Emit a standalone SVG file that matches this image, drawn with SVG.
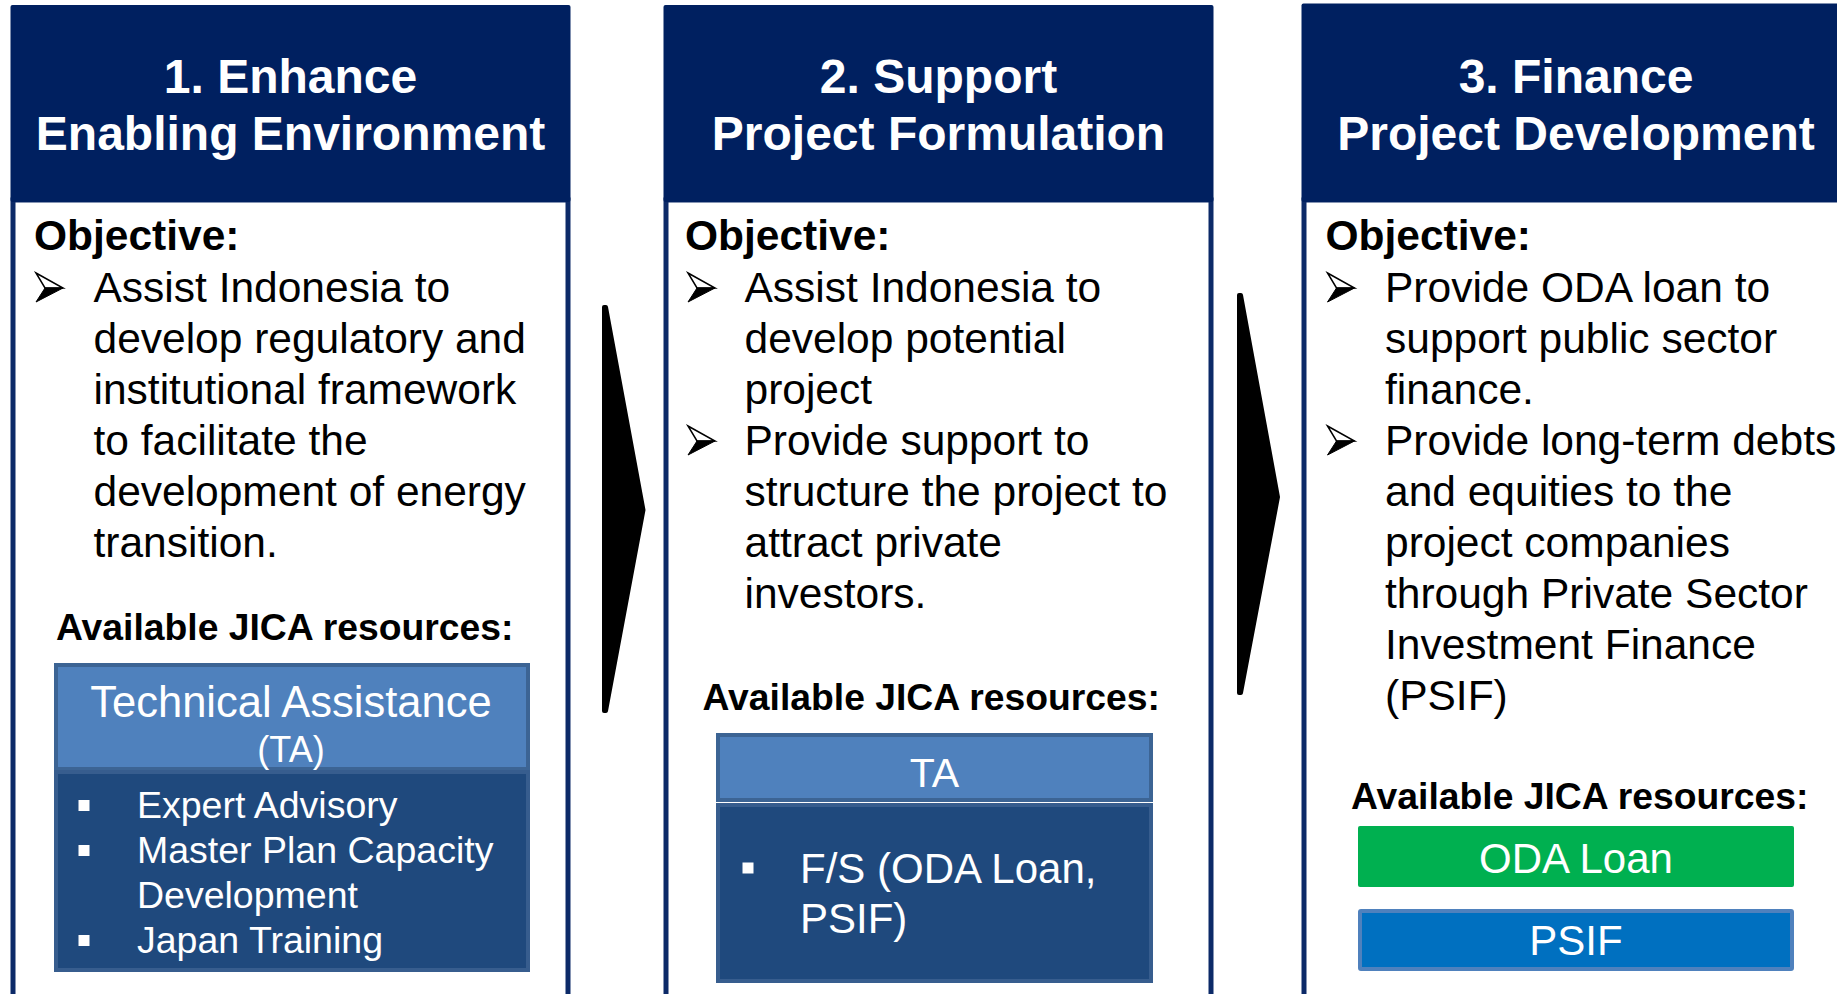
<svg xmlns="http://www.w3.org/2000/svg" xmlns:xlink="http://www.w3.org/1999/xlink" width="1837" height="994" viewBox="0 0 1837 994">
<style>
text{font-family:"Liberation Sans",Arial,sans-serif}
.hdr{fill:#002060}
.body{fill:#fff;stroke:#0C2A68;stroke-width:5}
.title{font-size:48px;font-weight:bold;fill:#fff;text-anchor:middle}
.obj{font-size:42.5px;font-weight:bold;fill:#000}
.txt{font-size:42.5px;fill:#000}
.avail{font-size:37.3px;font-weight:bold;fill:#000}
.lt{fill:#4F81BD;stroke:#3C6494;stroke-width:4}
.dk{fill:#1F497D;stroke:#375D8E;stroke-width:4}
.wt{fill:#fff}
.sq{fill:#fff}
.chev{fill:#000;stroke:#000;stroke-width:4;stroke-linejoin:round}
</style>
<defs>
<g id="arr">
<path d="M0,-29 L27,-14 L9,-14 Z" fill="#fff" stroke="#000" stroke-width="1.5"/>
<path d="M9,-14 L27,-14 L0,0 Z" fill="#000" stroke="#000" stroke-width="1"/>
</g>
</defs>

<g id="panel1">
<rect class="body" x="13" y="200" width="555" height="820"/>
<rect class="hdr" x="10.5" y="5" width="560" height="197" rx="2"/>
<text class="title" x="290.5" y="93">1. Enhance</text>
<text class="title" x="290.5" y="150">Enabling Environment</text>
<text class="obj" x="34" y="250">Objective:</text>
<use href="#arr" x="36" y="302"/>
<text class="txt" x="93.5" y="302">Assist Indonesia to</text>
<text class="txt" x="93.5" y="353">develop regulatory and</text>
<text class="txt" x="93.5" y="404">institutional framework</text>
<text class="txt" x="93.5" y="455">to facilitate the</text>
<text class="txt" x="93.5" y="506">development of energy</text>
<text class="txt" x="93.5" y="557">transition.</text>
<text class="avail" x="56" y="640">Available JICA resources:</text>
<rect class="lt" x="56" y="665" width="472" height="104"/>
<text class="wt" x="291" y="717" font-size="43.5" text-anchor="middle">Technical Assistance</text>
<text class="wt" x="291" y="762" font-size="36" text-anchor="middle">(TA)</text>
<rect class="dk" x="56" y="772" width="472" height="198"/>
<rect class="sq" x="78.5" y="800" width="11" height="11"/>
<text class="wt" x="137" y="818" font-size="37.5">Expert Advisory</text>
<rect class="sq" x="78.5" y="845" width="11" height="11"/>
<text class="wt" x="137" y="863" font-size="37.5">Master Plan Capacity</text>
<text class="wt" x="137" y="908" font-size="37.5">Development</text>
<rect class="sq" x="78.5" y="935" width="11" height="11"/>
<text class="wt" x="137" y="953" font-size="37.5">Japan Training</text>
</g>

<g id="panel2">
<rect class="body" x="666" y="200" width="545" height="820"/>
<rect class="hdr" x="663.5" y="5" width="550" height="197" rx="2"/>
<text class="title" x="938.5" y="93">2. Support</text>
<text class="title" x="938.5" y="150">Project Formulation</text>
<text class="obj" x="685" y="250">Objective:</text>
<use href="#arr" x="688" y="302"/>
<text class="txt" x="744.5" y="302">Assist Indonesia to</text>
<text class="txt" x="744.5" y="353">develop potential</text>
<text class="txt" x="744.5" y="404">project</text>
<use href="#arr" x="688" y="455"/>
<text class="txt" x="744.5" y="455">Provide support to</text>
<text class="txt" x="744.5" y="506">structure the project to</text>
<text class="txt" x="744.5" y="557">attract private</text>
<text class="txt" x="744.5" y="608">investors.</text>
<text class="avail" x="702.5" y="710">Available JICA resources:</text>
<rect class="lt" x="718" y="735" width="433" height="65"/>
<text class="wt" x="934.5" y="787" font-size="41" text-anchor="middle">TA</text>
<rect class="dk" x="718" y="805" width="433" height="176"/>
<rect class="sq" x="742.5" y="862.5" width="11" height="11"/>
<text class="wt" x="800" y="883" font-size="42">F/S (ODA Loan,</text>
<text class="wt" x="800" y="933" font-size="42">PSIF)</text>
</g>

<g id="panel3">
<rect class="body" x="1304" y="200" width="556" height="820"/>
<rect class="hdr" x="1301.5" y="3.5" width="561" height="198.5" rx="2"/>
<text class="title" x="1576" y="93">3. Finance</text>
<text class="title" x="1576" y="150">Project Development</text>
<text class="obj" x="1325.5" y="250">Objective:</text>
<use href="#arr" x="1327.5" y="302"/>
<text class="txt" x="1385" y="302">Provide ODA loan to</text>
<text class="txt" x="1385" y="353">support public sector</text>
<text class="txt" x="1385" y="404">finance.</text>
<use href="#arr" x="1327.5" y="455"/>
<text class="txt" x="1385" y="455">Provide long-term debts</text>
<text class="txt" x="1385" y="506">and equities to the</text>
<text class="txt" x="1385" y="557">project companies</text>
<text class="txt" x="1385" y="608">through Private Sector</text>
<text class="txt" x="1385" y="659">Investment Finance</text>
<text class="txt" x="1385" y="710">(PSIF)</text>
<text class="avail" x="1351" y="809">Available JICA resources:</text>
<rect x="1358" y="826" width="436" height="61" rx="2" fill="#00B050"/>
<text class="wt" x="1576" y="873" font-size="42" text-anchor="middle">ODA Loan</text>
<rect x="1360" y="911" width="432" height="58" rx="1" fill="#0070C0" stroke="#4F81BD" stroke-width="4"/>
<text class="wt" x="1576" y="955" font-size="42" text-anchor="middle">PSIF</text>
</g>

<g id="connectors">
<path class="chev" d="M604,307 L606,307 L643.5,510 L606,711 L604,711 Z"/>
<path class="chev" d="M1239,295 L1241,295 L1278,497 L1241,693 L1239,693 Z"/>
</g>
</svg>
